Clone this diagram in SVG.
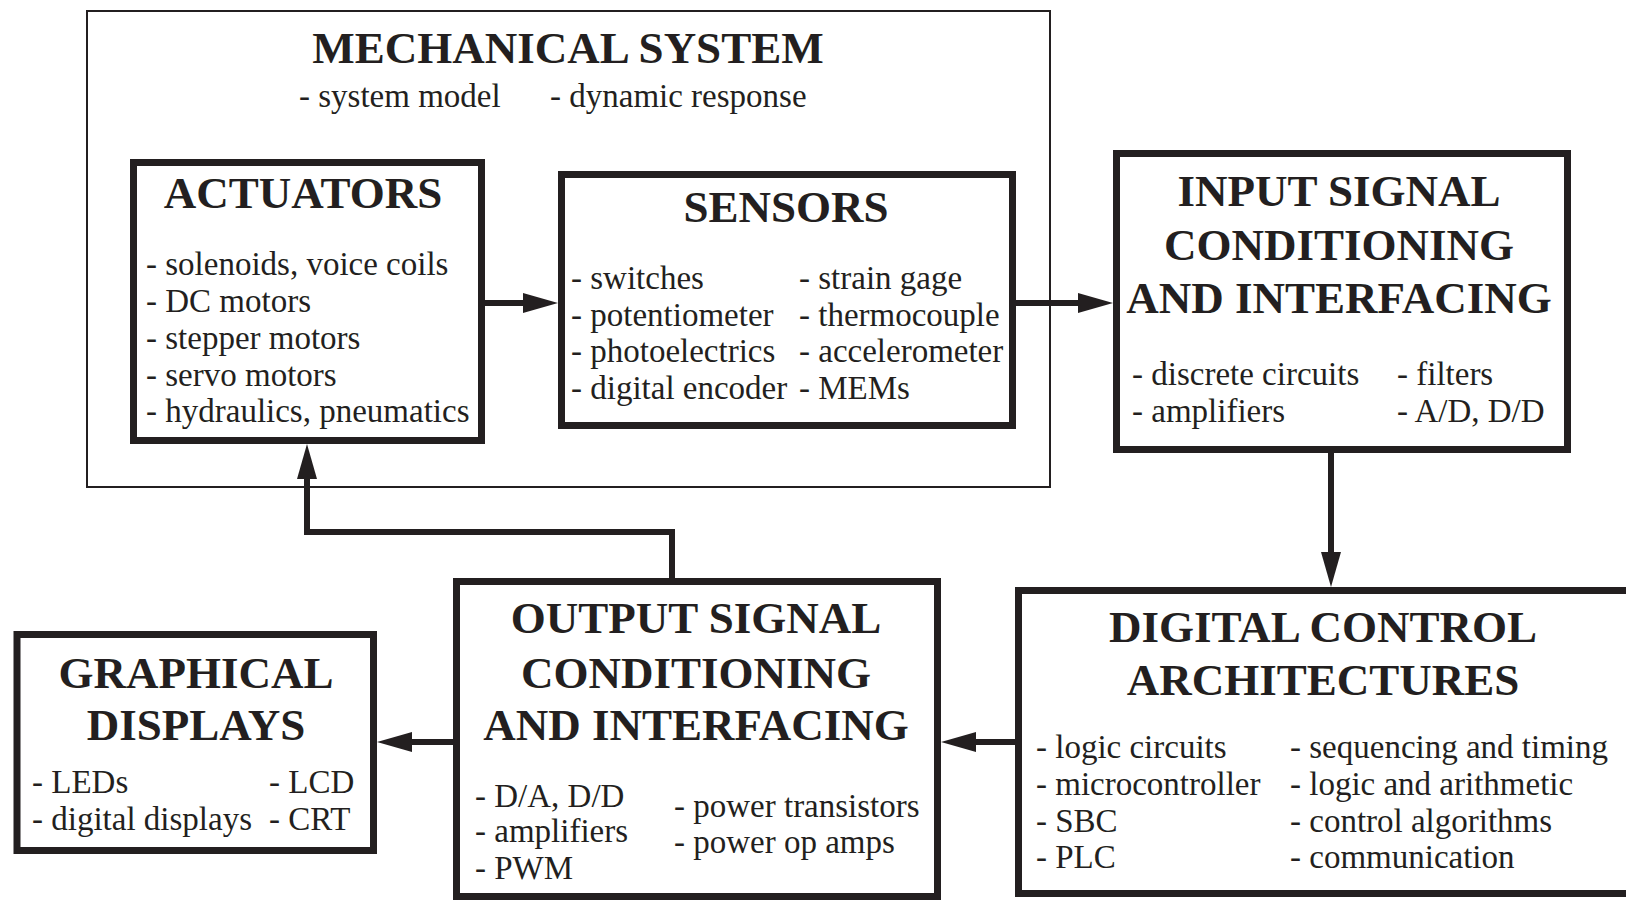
<svg xmlns="http://www.w3.org/2000/svg" width="1626" height="900" viewBox="0 0 1626 900">
<style>
.box{fill:none;stroke:#231f20;stroke-width:7}
.frame{fill:none;stroke:#231f20;stroke-width:2}
.title{font-family:"Liberation Serif","Times New Roman",serif;font-weight:bold;font-size:45px;fill:#231f20;text-anchor:middle}
.item{font-family:"Liberation Serif","Times New Roman",serif;font-size:33px;fill:#231f20}
.conn{fill:none;stroke:#231f20;stroke-width:6}
</style>
<defs>
<marker id="ah" markerUnits="userSpaceOnUse" markerWidth="36" markerHeight="20" viewBox="0 0 36 20" refX="1" refY="10" orient="auto">
<path d="M0,0 L35,10 L0,20 z" fill="#231f20"/>
</marker>
</defs>
<rect width="1626" height="900" fill="#ffffff"/>

<g id="mechanical-system">
<rect class="frame" x="87" y="11" width="963" height="476"/>
<text class="title" x="568" y="63">MECHANICAL SYSTEM</text>
<text class="item" x="299" y="107">- system model</text>
<text class="item" x="550" y="107">- dynamic response</text>
</g>

<g id="actuators">
<rect class="box" x="133.5" y="162.5" width="348" height="278"/>
<text class="title" x="303" y="208">ACTUATORS</text>
<text class="item" x="146" y="275">- solenoids, voice coils</text>
<text class="item" x="146" y="312">- DC motors</text>
<text class="item" x="146" y="349">- stepper motors</text>
<text class="item" x="146" y="386">- servo motors</text>
<text class="item" x="146" y="422">- hydraulics, pneumatics</text>
</g>

<g id="sensors">
<rect class="box" x="561.5" y="174.5" width="451" height="251"/>
<text class="title" x="786" y="222">SENSORS</text>
<text class="item" x="571" y="289">- switches</text>
<text class="item" x="571" y="326">- potentiometer</text>
<text class="item" x="571" y="362">- photoelectrics</text>
<text class="item" x="571" y="399">- digital encoder</text>
<text class="item" x="799" y="289">- strain gage</text>
<text class="item" x="799" y="326">- thermocouple</text>
<text class="item" x="799" y="362">- accelerometer</text>
<text class="item" x="799" y="399">- MEMs</text>
</g>

<g id="input-signal-conditioning">
<rect class="box" x="1116.5" y="153.5" width="451" height="296"/>
<text class="title" x="1339" y="206">INPUT SIGNAL</text>
<text class="title" x="1339" y="260">CONDITIONING</text>
<text class="title" x="1339" y="313">AND INTERFACING</text>
<text class="item" x="1132" y="385">- discrete circuits</text>
<text class="item" x="1132" y="422">- amplifiers</text>
<text class="item" x="1397" y="385">- filters</text>
<text class="item" x="1397" y="422">- A/D, D/D</text>
</g>

<g id="digital-control">
<rect class="box" x="1018.5" y="590.5" width="700" height="303"/>
<text class="title" x="1323" y="642">DIGITAL CONTROL</text>
<text class="title" x="1323" y="695">ARCHITECTURES</text>
<text class="item" x="1036" y="758">- logic circuits</text>
<text class="item" x="1036" y="795">- microcontroller</text>
<text class="item" x="1036" y="832">- SBC</text>
<text class="item" x="1036" y="868">- PLC</text>
<text class="item" x="1290" y="758">- sequencing and timing</text>
<text class="item" x="1290" y="795">- logic and arithmetic</text>
<text class="item" x="1290" y="832">- control algorithms</text>
<text class="item" x="1290" y="868">- communication</text>
</g>

<g id="output-signal-conditioning">
<rect class="box" x="456.5" y="581.5" width="481" height="315"/>
<text class="title" x="696" y="633">OUTPUT SIGNAL</text>
<text class="title" x="696" y="688">CONDITIONING</text>
<text class="title" x="696" y="740">AND INTERFACING</text>
<text class="item" x="475" y="807">- D/A, D/D</text>
<text class="item" x="475" y="842">- amplifiers</text>
<text class="item" x="475" y="879">- PWM</text>
<text class="item" x="674" y="817">- power transistors</text>
<text class="item" x="674" y="853">- power op amps</text>
</g>

<g id="graphical-displays">
<rect class="box" x="17" y="634.5" width="356.5" height="216"/>
<text class="title" x="196" y="688">GRAPHICAL</text>
<text class="title" x="196" y="740">DISPLAYS</text>
<text class="item" x="32" y="793">- LEDs</text>
<text class="item" x="32" y="830">- digital displays</text>
<text class="item" x="269" y="793">- LCD</text>
<text class="item" x="269" y="830">- CRT</text>
</g>

<g id="connectors">
<line class="conn" x1="485" y1="303" x2="524" y2="303" marker-end="url(#ah)"/>
<line class="conn" x1="1016" y1="303" x2="1079" y2="303" marker-end="url(#ah)"/>
<line class="conn" x1="1331" y1="453" x2="1331" y2="553" marker-end="url(#ah)"/>
<line class="conn" x1="1015" y1="742" x2="975" y2="742" marker-end="url(#ah)"/>
<line class="conn" x1="453" y1="742" x2="411" y2="742" marker-end="url(#ah)"/>
<polyline class="conn" points="672,578 672,532 307,532 307,478" marker-end="url(#ah)"/>
</g>
</svg>
